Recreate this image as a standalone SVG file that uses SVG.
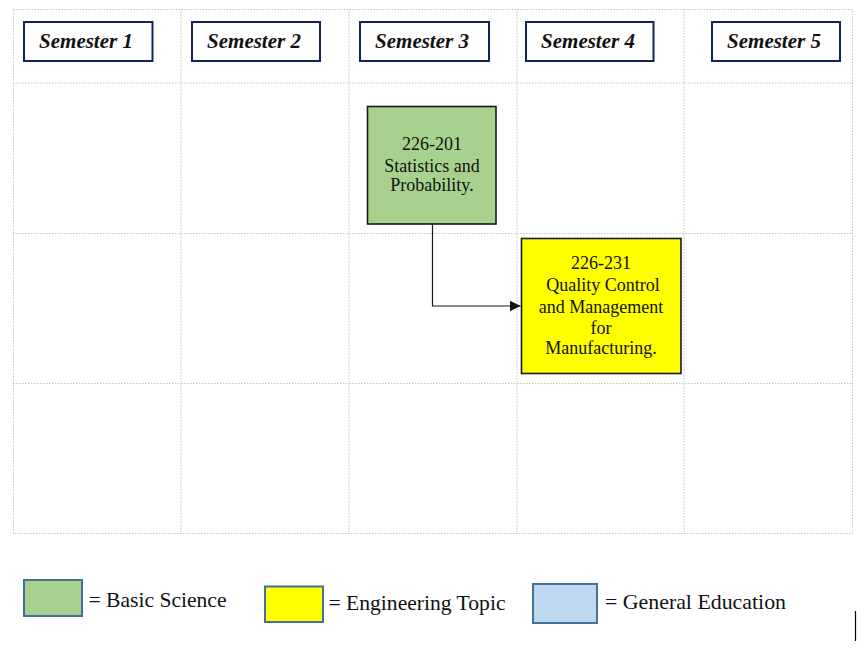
<svg xmlns="http://www.w3.org/2000/svg" width="864" height="652" viewBox="0 0 864 652">
<style>
.grid{stroke:#c4c4c4;stroke-width:1;stroke-dasharray:1.5,1.5;fill:none}
.sem rect{fill:#fff;stroke:#12235f;stroke-width:2}
.sem text{font-family:"Liberation Serif","Times New Roman",serif;font-weight:bold;font-style:italic;font-size:21px;fill:#111;text-anchor:middle}
.node rect{stroke:#1a1a1a;stroke-width:1.6}
.node text{font-family:"Liberation Serif","Times New Roman",serif;font-size:18px;fill:#111;text-anchor:middle}
.leg rect{stroke:#41719c;stroke-width:2}
.leg text{font-family:"Liberation Serif","Times New Roman",serif;font-size:21px;fill:#111}
.conn{stroke:#1a1a1a;stroke-width:1.2;fill:none}
</style>
<defs>
<marker id="arr" markerWidth="12" markerHeight="12" refX="11" refY="6" orient="auto" markerUnits="userSpaceOnUse">
<path d="M0,0.5 L11,6 L0,11.5 Z" fill="#111"/>
</marker>
</defs>
<rect width="864" height="652" fill="#fff"/>
<g id="grid" class="grid">
<rect x="13.5" y="9.5" width="839" height="524"/>
<line x1="181" y1="9" x2="181" y2="533"/>
<line x1="349" y1="9" x2="349" y2="533"/>
<line x1="517" y1="9" x2="517" y2="533"/>
<line x1="684" y1="9" x2="684" y2="533"/>
<line x1="13" y1="83" x2="852" y2="83"/>
<line x1="13" y1="233.5" x2="852" y2="233.5"/>
<line x1="13" y1="383.5" x2="852" y2="383.5"/>
</g>
<g id="sem1" class="sem"><rect x="24" y="22" width="128.5" height="39"/><text x="86" y="47.5">Semester 1</text></g>
<g id="sem2" class="sem"><rect x="192" y="22" width="128" height="39"/><text x="254" y="47.5">Semester 2</text></g>
<g id="sem3" class="sem"><rect x="360" y="22" width="129" height="39"/><text x="422" y="47.5">Semester 3</text></g>
<g id="sem4" class="sem"><rect x="526" y="22" width="127.5" height="39"/><text x="588" y="47.5">Semester 4</text></g>
<g id="sem5" class="sem"><rect x="712" y="22" width="128" height="39"/><text x="774" y="47.5">Semester 5</text></g>
<g id="connectors">
<path class="conn" d="M432.5,224 V306 H520.5" marker-end="url(#arr)"/>
</g>
<g id="n226-201" class="node">
<rect x="367.5" y="106.5" width="128.5" height="117.5" fill="#a9d18e"/>
<text x="432" y="150">226-201</text>
<text x="432" y="172">Statistics and</text>
<text x="432" y="191">Probability.</text>
</g>
<g id="n226-231" class="node">
<rect x="521.5" y="238.5" width="159.5" height="135" fill="#ffff00"/>
<text x="601" y="268.5">226-231</text>
<text x="603" y="290.5">Quality Control</text>
<text x="601" y="312.5">and Management</text>
<text x="601" y="333.5">for</text>
<text x="601" y="354">Manufacturing.</text>
</g>
<g id="legend" class="leg">
<rect x="24" y="580" width="58" height="36" fill="#a9d18e"/>
<text x="88.5" y="607" textLength="138" lengthAdjust="spacingAndGlyphs">= Basic Science</text>
<rect x="265" y="586.5" width="58" height="35.5" fill="#ffff00"/>
<text x="328.5" y="610" textLength="177" lengthAdjust="spacingAndGlyphs">= Engineering Topic</text>
<rect x="533" y="584" width="64" height="39" fill="#bdd7ee"/>
<text x="605" y="608.5" textLength="181" lengthAdjust="spacingAndGlyphs">= General Education</text>
</g>
<line x1="855.5" y1="611" x2="855.5" y2="641" stroke="#000" stroke-width="1.2"/>
</svg>
